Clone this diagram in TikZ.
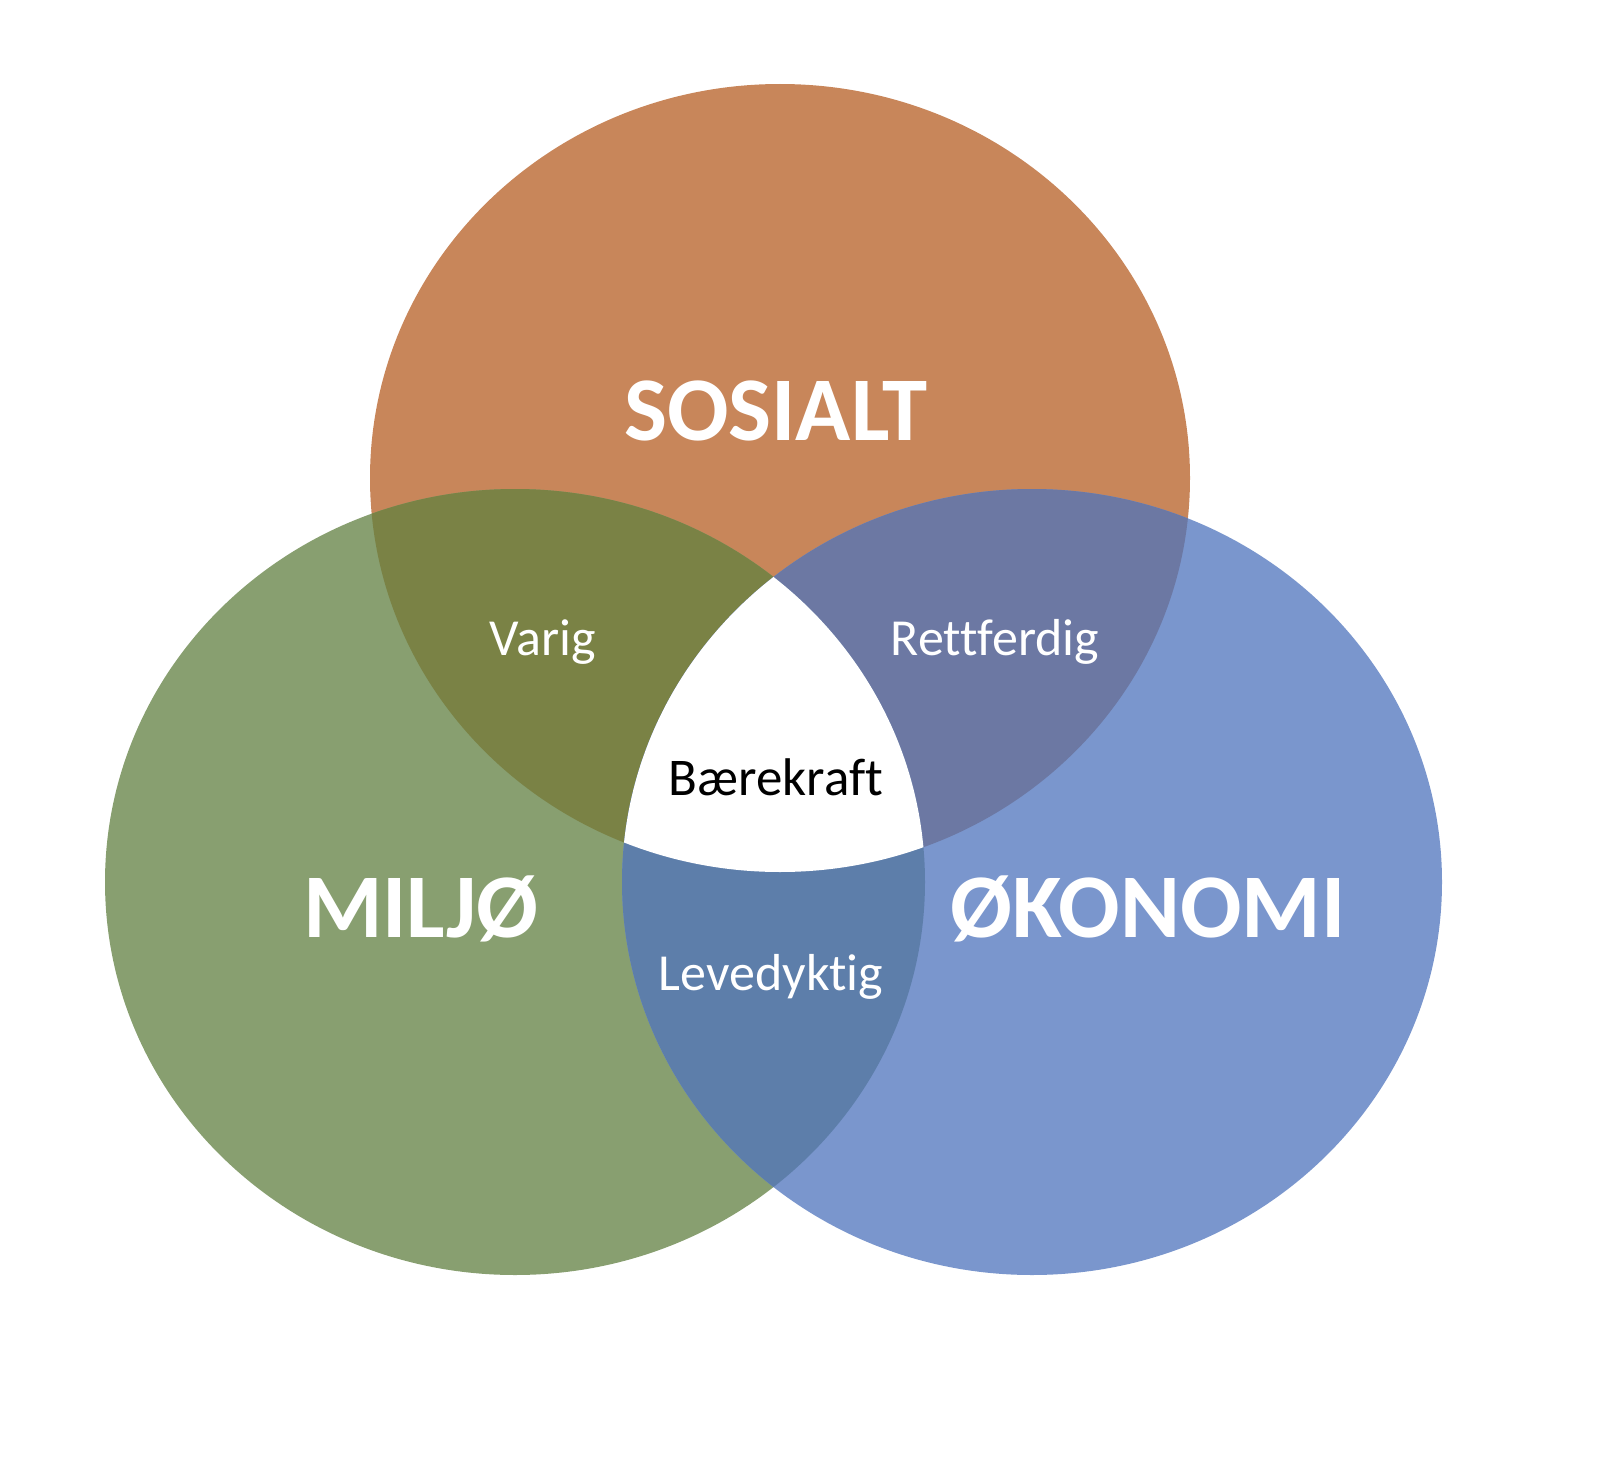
\documentclass[tikz,border=0pt]{standalone}
\usepackage{fontspec}
\setmainfont{Carlito}[Ligatures=NoCommon]
\definecolor{cSos}{RGB}{200,134,90}
\definecolor{cMil}{RGB}{136,159,112}
\definecolor{cOko}{RGB}{122,150,205}
\definecolor{cSosMil}{RGB}{122,130,69}
\definecolor{cSosOko}{RGB}{108,120,163}
\definecolor{cMilOko}{RGB}{93,126,170}
\tikzset{
  bigtxt/.style={text=white,font=\fontsize{91}{91}\selectfont\bfseries,anchor=base,inner sep=0pt},
  smalltxt/.style={text=white,font=\fontsize{52}{52}\selectfont,anchor=base,inner sep=0pt},
  centertxt/.style={text=black,font=\fontsize{53}{53}\selectfont,anchor=base,inner sep=0pt}
}
\newcommand{\ellS}{(780,478) ellipse [x radius=410pt, y radius=394pt]}
\newcommand{\ellM}{(515,882) ellipse [x radius=410pt, y radius=393pt]}
\newcommand{\ellO}{(1032,882) ellipse [x radius=410pt, y radius=393pt]}
\begin{document}
\begin{tikzpicture}[x=1pt,y=-1pt]
\useasboundingbox (0,0) rectangle (1615,1477);
\coordinate (cS) at (780,478);
\coordinate (cM) at (515,882);
\coordinate (cO) at (1032,882);
% base ellipses
\fill[cSos] \ellS;
\fill[cMil] \ellM;
\fill[cOko] \ellO;
% pair intersections
\begin{scope}
  \clip \ellS;
  \fill[cSosMil] \ellM;
\end{scope}
\begin{scope}
  \clip \ellS;
  \fill[cSosOko] \ellO;
\end{scope}
\begin{scope}
  \clip \ellM;
  \fill[cMilOko] \ellO;
\end{scope}
% triple intersection
\begin{scope}
  \clip \ellS;
  \clip \ellM;
  \fill[white] \ellO;
\end{scope}
% labels
\node[bigtxt] (sosialt) at (776,440) {SOSIALT};
\node[bigtxt] (miljo) at (421,937) {MILJØ};
\node[bigtxt] (okonomi) at (1148,937) {ØKONOMI};
\node[smalltxt] (varig) at (543,655) {Varig};
\node[smalltxt] (rettferdig) at (995,655) {Rettferdig};
\node[smalltxt] (levedyktig) at (771,990) {Levedyktig};
\node[centertxt] (baerekraft) at (776,795) {Bærekraft};
\end{tikzpicture}
\end{document}
